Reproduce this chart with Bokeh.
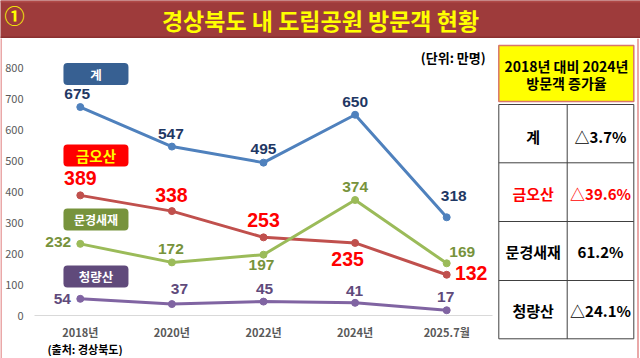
from bokeh.plotting import figure
from bokeh.models import Range1d, FactorRange, FixedTicker, ColumnDataSource
from bokeh.layouts import column, row
from bokeh.transform import dodge
from bokeh.core.properties import value
from bokeh.embed import file_html
from bokeh.resources import INLINE

# ---------------- data ----------------
title_text = "경상북도 내 도립공원 방문객 현황"
badge_text = "①"
years = ["2018년", "2020년", "2022년", "2024년", "2025.7월"]
series_names = ["계", "금오산", "문경새재", "청량산"]
total = [675, 547, 495, 650, 318]
geumosan = [389, 338, 253, 235, 132]
mungyeong = [232, 172, 197, 374, 169]
cheongryang = [54, 37, 45, 41, 17]
y_ticks = [0, 100, 200, 300, 400, 500, 600, 700, 800]
unit_text = "(단위: 만명)"
source_text = "(출처: 경상북도)"
table_header = ["2018년 대비 2024년", "방문객 증가율"]
table_names = ["계", "금오산", "문경새재", "청량산"]
table_rates = ["△3.7%", "△39.6%", "61.2%", "△24.1%"]

# ---------------- styles ----------------
KR = "Noto Sans CJK KR"
NUM = "Liberation Sans"
PINK = "#eaa8a8"
line_colors = ["#4f81bd", "#c0504d", "#9bbb59", "#8064a2"]
label_colors = ["#1f3864", "#ff0000", "#77933c", "#604a7b"]
label_sizes = ["15.5px", "19.5px", "15.5px", "15.5px"]
box_colors = ["#376092", "#ff0000", "#77933c", "#604a7b"]
box_text_colors = ["#ffffff", "#ffff00", "#ffffff", "#ffffff"]
box_text_sizes = ["12.5px", "14.5px", "12px", "12.5px"]
box_y = [782, 518, 311, 126]          # label-box centres (value units)
label_dx = [
    [-3, -1, 0, 0, 7],
    [0, -0.5, 0, -7.5, 24.5],
    [-22, -1, -2, 0, 15.5],
    [-18, 7.5, 1, -0.5, -1],
]
label_dy = [
    [-13, -13, -13.5, -13, -21],
    [-17, -16, -17, 16, -1.5],
    [-1.5, -13.4, 10.3, -13, -11],
    [0, -15.5, -12.6, -12.3, -13],
]

W = 640
TITLE_H = 38
LOWER_H = 320
CHART_W = 495
TABLE_W = 139
CHART_H = 304
SRC_H = 14


def blank(width, height, xr, yr, bg="#ffffff"):
    f = figure(width=width, height=height, x_range=xr, y_range=yr,
               output_backend="svg", toolbar_location=None, title=None,
               x_axis_location=None, y_axis_location=None, min_border=0)
    f.grid.visible = False
    f.outline_line_color = None
    f.background_fill_color = bg
    f.border_fill_color = bg
    return f


# ---------------- title bar ----------------
tf = blank(W, TITLE_H, Range1d(0, W), Range1d(TITLE_H, 0), bg="#9e3b3b")
tf.quad(left=[0], right=[W], top=[0], bottom=[2], fill_color="#b04a48", line_color=None)
tf.quad(left=[0], right=[W], top=[TITLE_H - 2], bottom=[TITLE_H], fill_color="#8a3030", line_color=None)
tf.text(x=[W / 2], y=[19.5], text=[title_text], text_font=value(KR), text_font_style="bold",
        text_font_size="23px", text_color="#ffff00", text_align="center", text_baseline="middle")
tf.text(x=[14], y=[15], text=[badge_text], text_font=value(KR), text_font_style="bold",
        text_font_size="20px", text_color="#ffff00", text_align="center", text_baseline="middle")

# ---------------- line chart ----------------
p = figure(width=CHART_W, height=CHART_H, x_range=FactorRange(*years), y_range=Range1d(0, 897),
           output_backend="svg", toolbar_location=None, title=None,
           min_border_left=32, min_border_right=5, min_border_top=0, min_border_bottom=27)
p.outline_line_color = None
p.grid.visible = False
p.background_fill_color = "#ffffff"
p.border_fill_color = "#ffffff"

p.yaxis.ticker = FixedTicker(ticks=y_ticks)
p.yaxis.axis_line_color = None
p.yaxis.major_tick_line_color = None
p.yaxis.minor_tick_line_color = None
p.yaxis.major_tick_out = 0
p.yaxis.major_tick_in = 0
p.yaxis.minor_tick_out = 0
p.yaxis.major_label_standoff = 11
p.yaxis.major_label_text_font = KR
p.yaxis.major_label_text_font_size = "11px"
p.yaxis.major_label_text_color = "#595959"

p.xaxis.axis_line_color = "#d9d9d9"
p.xaxis.axis_line_width = 1
p.xaxis.major_tick_line_color = None
p.xaxis.minor_tick_line_color = None
p.xaxis.major_tick_out = 0
p.xaxis.major_tick_in = 0
p.xaxis.minor_tick_out = 0
p.xaxis.major_label_standoff = 8
p.xaxis.major_label_text_font = KR
p.xaxis.major_label_text_font_style = "bold"
p.xaxis.major_label_text_font_size = "11px"
p.xaxis.major_label_text_color = "#595959"

all_series = [total, geumosan, mungyeong, cheongryang]
for i, vals in enumerate(all_series):
    src = ColumnDataSource(dict(x=years, y=vals))
    p.line("x", "y", source=src, line_color=line_colors[i], line_width=3)
    p.scatter("x", "y", source=src, size=7, fill_color=line_colors[i], line_color=line_colors[i])

for i, vals in enumerate(all_series):
    src = ColumnDataSource(dict(x=years, y=vals, t=[str(v) for v in vals],
                                dx=label_dx[i], dy=label_dy[i]))
    p.text("x", "y", text="t", source=src, x_offset="dx", y_offset="dy",
           text_font=value(NUM), text_font_style="bold", text_font_size=label_sizes[i],
           text_color=label_colors[i], text_align="center", text_baseline="middle")

# series name boxes
box_src = ColumnDataSource(dict(x=[years[0]] * len(series_names), y=box_y, fill=box_colors))
r = p.rect(x=dodge("x", 0.171, range=p.x_range), y="y", width=65, height=22,
           width_units="screen", height_units="screen", source=box_src,
           fill_color="fill", line_color=None)
if "border_radius" in r.glyph.properties():
    r.glyph.border_radius = 4
for i, nm in enumerate(series_names):
    s = ColumnDataSource(dict(x=[years[0]], y=[box_y[i]], t=[nm]))
    p.text(x=dodge("x", 0.171, range=p.x_range), y="y", text="t", source=s,
           text_font=value(KR), text_font_style="bold", text_font_size=box_text_sizes[i],
           text_color=box_text_colors[i], text_align="center", text_baseline="middle")

# unit note
p.text(x=[years[-1]], y=[837], text=[unit_text], x_offset=39,
       text_font=value(KR), text_font_style="bold", text_font_size="13px",
       text_color="#000000", text_align="right", text_baseline="middle")

# ---------------- source line ----------------
sf = blank(CHART_W, SRC_H, Range1d(0, CHART_W), Range1d(SRC_H, 0))
sf.text(x=[14], y=[6], text=[source_text], text_font=value(KR), text_font_style="bold",
        text_font_size="11px", text_color="#000000", text_align="left", text_baseline="middle")

# ---------------- table ----------------
TABLE_H = LOWER_H - 2
tb = blank(TABLE_W, TABLE_H, Range1d(0, TABLE_W), Range1d(TABLE_H, 0))
tb.quad(left=[1.3], right=[136.3], top=[7], bottom=[63], fill_color="#ffff00",
        line_color="#d8766c", line_width=1.5)
tb.text(x=[69, 69], y=[27, 44], text=table_header, text_font=value(KR), text_font_style="bold",
        text_font_size="14px", text_color="#000000", text_align="center", text_baseline="middle")
row_lines = [66, 124.3, 183, 242, 300.3]
tb.segment(x0=[1.3] * len(row_lines), x1=[136.3] * len(row_lines), y0=row_lines, y1=row_lines,
           line_color="#404040", line_width=1)
tb.segment(x0=[1.3, 69.7, 136.3], x1=[1.3, 69.7, 136.3], y0=[66] * 3, y1=[300.3] * 3,
           line_color="#404040", line_width=1)
row_centres = [97.5, 155, 213, 272]
row_colors = ["#000000", "#ff0000", "#000000", "#000000"]
tb.text(x=[35.7] * 4, y=row_centres, text=table_names, text_color=row_colors,
        text_font=value(KR), text_font_style="bold", text_font_size="15px",
        text_align="center", text_baseline="middle")
tb.text(x=[103] * 4, y=row_centres, text=table_rates, text_color=row_colors,
        text_font=value(KR), text_font_style="bold", text_font_size="15px",
        text_align="center", text_baseline="middle")

# ---------------- borders ----------------
left_strip = blank(2, LOWER_H, Range1d(0, 1), Range1d(0, 1), bg=PINK)
right_strip = blank(4, LOWER_H, Range1d(0, 4), Range1d(0, 1))
right_strip.quad(left=[0.5], right=[2.5], top=[1], bottom=[0], fill_color=PINK, line_color=None)
bottom_strip = blank(CHART_W + TABLE_W, 2, Range1d(0, 1), Range1d(0, 1), bg="#f0c0c0")

mid = column(row(column(p, sf), tb), bottom_strip)
lower = row(left_strip, mid, right_strip)
layout = column(tf, lower)

open("out.html", "w").write(file_html(layout, INLINE))
